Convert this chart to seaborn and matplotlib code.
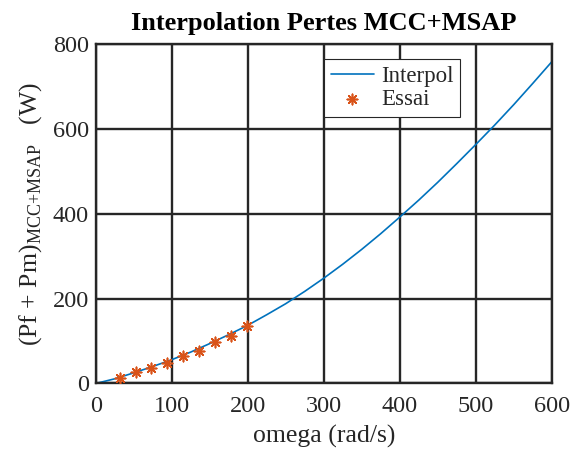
import matplotlib
matplotlib.use("Agg")
import matplotlib.pyplot as plt
import seaborn as sns
import pandas as pd

# measured points (Essai)
omega_essai = [31.4, 52.4, 73.3, 94.2, 115.2, 136.1, 157.1, 178.0, 199.0]
pertes_essai = [13.5, 26.5, 37.0, 49.0, 64.0, 76.5, 97.5, 112.5, 135.0]

# interpolation curve
omega_interp = [0, 25, 50, 75, 100, 125, 150, 175, 200, 225, 250, 275, 300,
                325, 350, 375, 400, 425, 450, 475, 500, 525, 550, 575, 600]
pertes_interp = [0, 11, 25, 40, 56, 74, 94, 115, 137, 162, 188, 217, 248,
                 281, 316, 353, 392, 432, 474, 518, 563, 609, 657, 707, 758]

blue = "#0072BD"
orange = "#D95319"
dark = "#262626"

sns.set_theme(style="white")
plt.rcParams["font.family"] = ["Liberation Serif", "DejaVu Serif"]
plt.rcParams["mathtext.fontset"] = "custom"
plt.rcParams["mathtext.rm"] = "Liberation Serif"

fig = plt.figure(figsize=(5.71, 4.58), dpi=100)
ax = fig.add_axes([0.1676, 0.1627, 0.7986, 0.7412])

df_i = pd.DataFrame({"omega": omega_interp, "P": pertes_interp})
df_e = pd.DataFrame({"omega": omega_essai, "P": pertes_essai})

sns.lineplot(data=df_i, x="omega", y="P", ax=ax, color=blue, linewidth=1.2,
             label="Interpol")
sns.scatterplot(data=df_e, x="omega", y="P", ax=ax, marker=(8, 2, 0), s=55,
                color=orange, edgecolor=orange, linewidth=1.2, label="Essai",
                zorder=3)

ax.set_xlim(0, 600)
ax.set_ylim(0, 800)
ax.set_xticks(range(0, 601, 100))
ax.set_yticks(range(0, 801, 200))
ax.grid(True, color=dark, linewidth=1.7)
ax.set_axisbelow(True)
for s in ax.spines.values():
    s.set_color(dark)
    s.set_linewidth(1.7)
ax.tick_params(labelsize=17.5, colors=dark, length=0)
ax.tick_params(axis="x", pad=9)
ax.tick_params(axis="y", pad=5)

ax.set_title("Interpolation Pertes MCC+MSAP", fontsize=19, fontweight="bold",
             color="black", pad=10)
ax.set_xlabel("omega (rad/s)", fontsize=18.5, color=dark, labelpad=6)
ax.set_ylabel(r"(Pf + Pm)$_{\mathrm{MCC{+}MSAP}}$   (W)", fontsize=18.5,
              color=dark, labelpad=6)

leg = ax.legend(loc="upper left", bbox_to_anchor=(0.50, 0.956), fontsize=16.5,
                frameon=True, fancybox=False, framealpha=1, edgecolor=dark,
                handlelength=1.9, borderpad=0.3, labelspacing=0.1,
                handletextpad=0.3, borderaxespad=0)
leg.get_frame().set_linewidth(0.8)

fig.savefig("out.png", dpi=100)
